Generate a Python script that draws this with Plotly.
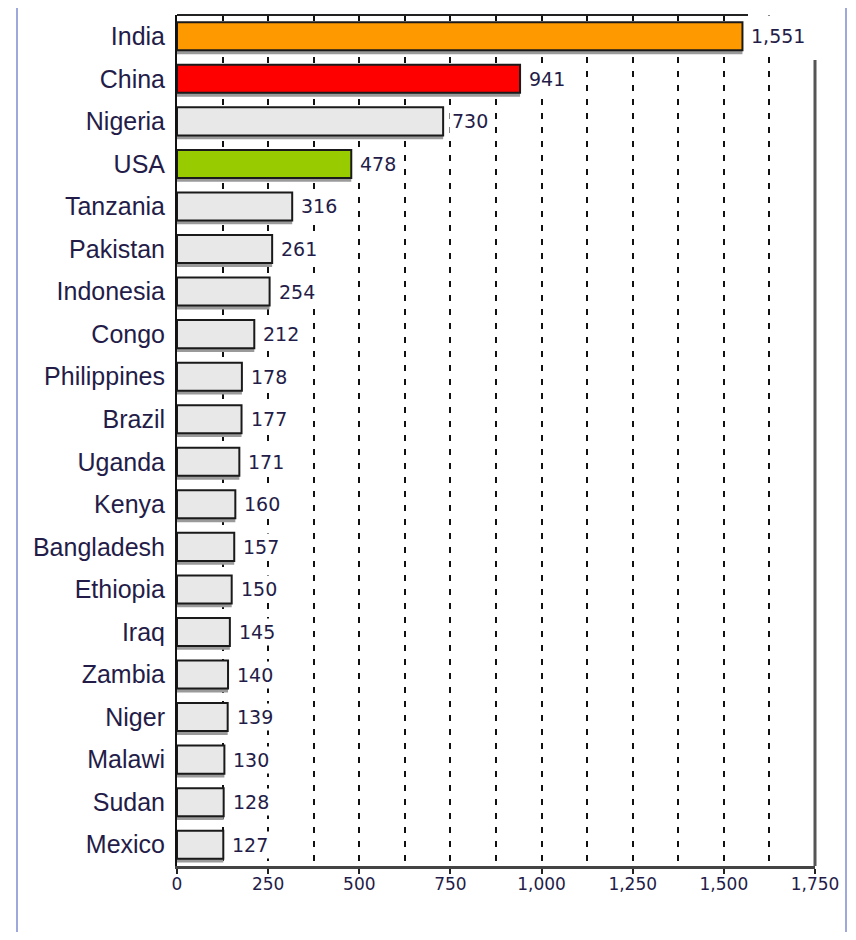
import plotly.graph_objects as go

countries = ["India", "China", "Nigeria", "USA", "Tanzania", "Pakistan", "Indonesia", "Congo",
             "Philippines", "Brazil", "Uganda", "Kenya", "Bangladesh", "Ethiopia", "Iraq",
             "Zambia", "Niger", "Malawi", "Sudan", "Mexico"]
values = [1551, 941, 730, 478, 316, 261, 254, 212, 178, 177, 171, 160, 157, 150, 145,
          140, 139, 130, 128, 127]
highlight = {"India": "#FF9900", "China": "#FF0000", "USA": "#99CC00"}
default_color = "#E8E8E8"
x_ticks = [0, 250, 500, 750, 1000, 1250, 1500, 1750]

colors = [highlight.get(c, default_color) for c in countries]
text_color = "#241c48"
n = len(countries)
bw = 0.66

fig = go.Figure()
# drop shadow
fig.add_trace(go.Bar(
    y=countries, x=values, orientation="h", width=bw, offset=-bw / 2 + 0.09,
    marker=dict(color="#9a9a9a", line=dict(width=0)), hoverinfo="skip", showlegend=False,
))
fig.add_trace(go.Bar(
    y=countries, x=values, orientation="h", width=bw, offset=-bw / 2,
    marker=dict(color=colors, line=dict(color="#1a1a1a", width=2)), showlegend=False,
))

annotations = []
for c, v in zip(countries, values):
    annotations.append(dict(
        x=v, y=c, xref="x", yref="y", text=f"{v:,}", showarrow=False,
        xanchor="left", yanchor="middle", xshift=6,
        bgcolor="white", borderpad=2,
        font=dict(family="DejaVu Sans", size=19, color=text_color),
    ))

# page has 8px body margin: work in figure coordinates
OFF = 8
W, H = 856 - 2 * OFF, 940 - 2 * OFF
ml, mt = 177 - OFF, 15 - OFF
pw, ph = 638, 851
mr = W - ml - pw
mb = H - mt - ph

def px(x):
    return (x - OFF - ml) / pw

def py(y):
    return (mt + ph - (y - OFF)) / ph

frame = dict(color="#9FA8DA", width=2)
top_value = max(values)
shapes = [
    # outer light blue frame
    dict(type="line", xref="paper", yref="paper", x0=px(17), x1=px(17), y0=py(8), y1=py(940), line=frame),
    dict(type="line", xref="paper", yref="paper", x0=px(846), x1=px(846), y0=py(8), y1=py(940), line=frame),
    # white area right of the top bar (label box)
    dict(type="rect", xref="x", yref="y", x0=top_value + 10, x1=1745, y0=-0.49, y1=0.48,
         line=dict(width=0), fillcolor="#ffffff", layer="above"),
    # top line (truncated)
    dict(type="line", xref="paper", yref="paper", x0=0, x1=px(748), y0=1, y1=1,
         line=dict(color="#222222", width=2)),
    # right line (truncated)
    dict(type="line", xref="paper", yref="paper", x0=1, x1=1, y0=0, y1=py(60),
         line=dict(color="#555555", width=3)),
]

fig.update_layout(
    width=W, height=H,
    margin=dict(l=ml, r=mr, t=mt, b=mb, autoexpand=False),
    paper_bgcolor="white", plot_bgcolor="white",
    barmode="overlay",
    annotations=annotations,
    shapes=shapes,
    xaxis=dict(
        range=[0, 1750], tickvals=x_ticks, tickformat=",d",
        showgrid=True, gridcolor="#111111", gridwidth=2, griddash="6px,8px",
        minor=dict(dtick=125, tick0=0, showgrid=True, gridcolor="#111111", gridwidth=2,
                   griddash="6px,8px", ticks=""),
        showline=True, linecolor="#444444", linewidth=3,
        ticks="outside", ticklen=5, tickwidth=2, tickcolor="#222222",
        ticklabelstandoff=-4,
        tickfont=dict(family="DejaVu Sans", size=17, color=text_color),
        zeroline=False, fixedrange=True, automargin=False,
    ),
    yaxis=dict(
        type="category", categoryorder="array", categoryarray=countries,
        range=[n - 0.5, -0.5],
        showgrid=False, zeroline=False,
        showline=True, linecolor="#111111", linewidth=2,
        ticks="", ticklabelstandoff=5, automargin=False,
        tickfont=dict(family="Liberation Sans", size=25, color=text_color),
    ),
)

fig.write_html("out.html")
